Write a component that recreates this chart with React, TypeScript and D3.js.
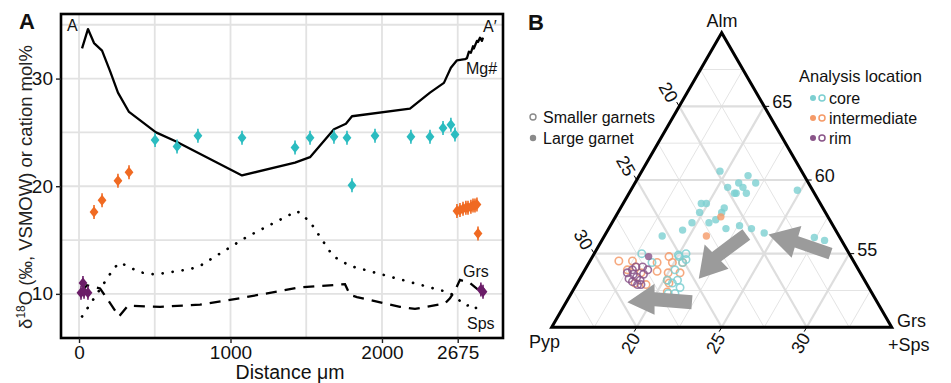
import { useRef, useEffect } from "react";
import * as d3 from "d3";

const FONT = "'Liberation Sans', Arial, Helvetica, sans-serif";

// ---- panel A : profile A-A' ----
const distTicks = [0, 1000, 2000, 2500];
const distTickLabels = ["0", "1000", "2000", "2675"];
const distGrid = [0, 500, 1000, 1500, 2000, 2500];
const valTicks = [10, 20, 30];
const valGrid = [10, 15, 20, 25, 30, 35];

// Mg# (solid)
const mgDist = [20, 59, 99, 152, 205, 257, 330, 508, 634, 1076, 1426, 1525, 1683, 1762, 1802, 2185, 2317, 2409, 2455, 2495, 2548, 2561, 2574, 2587, 2601, 2607, 2627, 2634, 2647, 2660, 2667];
const mgVal = [32.8, 34.6, 33.3, 32.6, 30.7, 28.7, 26.9, 25.0, 24.2, 21.0, 22.2, 22.7, 25.3, 25.8, 26.5, 27.2, 28.7, 29.6, 31.0, 31.7, 31.8, 31.9, 32.5, 32.4, 33.0, 32.8, 33.5, 33.4, 33.8, 33.5, 33.8];
// Grs (dashed)
const grsDist = [13, 53, 139, 178, 264, 323, 535, 799, 1063, 1459, 1756, 1789, 1835, 2119, 2218, 2416, 2449, 2482, 2515, 2581, 2634];
const grsVal = [10.2, 10.8, 10.5, 9.7, 7.9, 8.9, 8.8, 9.0, 9.6, 10.6, 10.9, 9.9, 9.7, 8.8, 8.6, 9.1, 9.6, 10.3, 11.3, 11.0, 10.4];
// Sps (dotted)
const spsDist = [20, 231, 271, 403, 502, 733, 799, 1109, 1439, 1525, 1677, 1789, 2449, 2554, 2607, 2647];
const spsVal = [7.9, 12.4, 12.9, 12.0, 11.8, 12.3, 12.6, 15.3, 17.7, 16.7, 13.5, 12.6, 10.1, 8.9, 9.0, 8.1];

// d18O analyses
const coreDist = [502, 647, 785, 1076, 1426, 1525, 1683, 1769, 1802, 1954, 2191, 2317, 2403, 2455, 2482];
const coreO = [24.3, 23.7, 24.7, 24.5, 23.6, 24.5, 24.6, 24.5, 20.1, 24.7, 24.6, 24.6, 25.4, 25.7, 24.8];
const interDist = [99, 152, 257, 330, 2495, 2515, 2535, 2554, 2568, 2587, 2601, 2614, 2627, 2634];
const interO = [17.6, 18.7, 20.5, 21.3, 17.7, 17.8, 17.9, 18.0, 18.0, 18.1, 18.2, 18.2, 18.3, 15.6];
const rimDist = [26, 13, 59, 33, 2653, 2667];
const rimO = [11.0, 10.1, 10.1, 10.2, 10.4, 10.2];

// ---- panel B : ternary Alm / Pyp / Grs+Sps (mol%) ----
// [Alm, Pyp, Grs+Sps]
const largeCore = [
  [60.6, 19.8, 19.6], [60.3, 18.3, 21.4], [59.8, 19.1, 21.1], [59.8, 18.1, 22.1], [59.5, 19.9, 20.6],
  [59.5, 19.0, 21.5], [59.1, 19.6, 21.3], [59.1, 19.7, 21.2], [59.1, 19.0, 21.9], [59.3, 15.9, 24.8],
  [58.4, 22.0, 19.6], [58.4, 21.7, 19.9], [58.1, 20.8, 21.1], [57.8, 22.4, 19.8], [57.8, 21.1, 21.1],
  [57.3, 21.7, 21.0], [57.1, 22.2, 20.7], [57.1, 23.2, 19.7], [56.6, 24.0, 19.4], [56.7, 21.4, 21.9],
  [56.9, 20.5, 22.6], [56.7, 19.9, 23.4], [56.4, 19.3, 24.3], [56.1, 16.5, 27.4], [55.9, 16.0, 28.1],
  [56.2, 25.4, 18.4],
];
const largeInter = [[57.5, 21.3, 21.2], [56.2, 22.8, 21.0]];
const largeRim = [[54.8, 26.9, 18.3]];
const smallCore = [
  [55.0, 27.2, 17.8], [54.4, 26.9, 18.7], [54.9, 25.1, 20.0], [55.0, 24.6, 20.4], [54.6, 24.8, 20.6],
  [54.4, 25.1, 20.5], [53.9, 25.8, 20.3], [53.2, 26.0, 20.8], [53.2, 26.6, 20.2], [52.7, 26.1, 21.2],
  [52.3, 26.6, 21.1], [52.3, 27.0, 20.7], [54.8, 25.1, 20.1], [53.0, 26.4, 20.6],
];
const smallInter = [
  [54.5, 28.8, 16.7], [54.5, 28.0, 17.5], [53.9, 28.6, 17.5], [53.7, 27.9, 18.4], [53.0, 28.6, 18.4],
  [52.9, 28.0, 19.1], [54.4, 26.6, 19.0], [53.8, 26.9, 19.3], [54.8, 25.7, 19.5], [54.4, 25.7, 19.9],
  [53.7, 26.3, 20.0], [54.4, 25.1, 20.5], [53.7, 25.6, 20.7], [53.0, 26.6, 20.4], [52.4, 27.0, 20.6],
  [53.2, 26.6, 20.2], [54.1, 28.0, 17.9],
];
const smallRim = [
  [53.7, 28.7, 17.6], [53.9, 28.3, 17.8], [53.4, 28.3, 18.3], [53.1, 28.7, 18.2], [53.2, 28.2, 18.6],
  [53.6, 27.8, 18.6], [53.9, 27.4, 18.7], [54.1, 28.0, 17.9], [54.1, 27.6, 18.3], [52.9, 28.5, 18.6],
  [53.6, 28.4, 18.0], [53.3, 28.8, 17.9], [52.9, 28.3, 18.8],
];
// arrows: centreline in ternary coords, last point is the tip
const arrows = [
  { pts: [[55.0, 16.1, 28.9], [55.8, 17.7, 26.5], [56.3, 19.1, 24.6]], shaft: 12, head: 33 },
  { pts: [[56.3, 20.4, 23.3], [55.7, 21.4, 22.9], [54.8, 22.9, 22.3], [53.3, 24.7, 22.0]], shaft: 13, head: 34 },
  { pts: [[51.7, 25.9, 22.4], [51.9, 28.0, 20.1], [51.7, 29.7, 18.6]], shaft: 14, head: 31 },
];
const almTicks = [55, 60, 65];
const sideTicks = [20, 25, 30];
const almMinor = [52.5, 57.5, 62.5, 67.5];
const sideMinor = [17.5, 22.5, 27.5, 32.5];

const colors = { core: "#2bbcc0", inter: "#f06a22", rim: "#6b1d68" };
const softColors = { core: "#7ccfd1", inter: "#f59a68", rim: "#8a5589" };

function drawProfile(g: any) {
  const x = d3.scaleLinear().domain([-119, 2799]).range([61, 503]);
  const y = d3.scaleLinear().domain([5.9, 36]).range([338, 14]);

  g.append("g").selectAll("line").data(distGrid).join("line")
    .attr("x1", (d: number) => x(d)).attr("x2", (d: number) => x(d))
    .attr("y1", y(5.9)).attr("y2", y(36))
    .attr("stroke", "#e2e2e2").attr("stroke-width", 1.8);
  g.append("g").selectAll("line").data(valGrid).join("line")
    .attr("x1", x(-119)).attr("x2", x(2799))
    .attr("y1", (d: number) => y(d)).attr("y2", (d: number) => y(d))
    .attr("stroke", "#e2e2e2").attr("stroke-width", 1.8);

  const line = d3.line<number>();
  const mk = (xs: number[], ys: number[]) =>
    line.x((_d, i) => x(xs[i])).y((_d, i) => y(ys[i]))(xs);

  g.append("path").attr("d", mk(spsDist, spsVal)).attr("fill", "none")
    .attr("stroke", "#000").attr("stroke-width", 2.7)
    .attr("stroke-dasharray", "0.1 10").attr("stroke-linecap", "round");
  g.append("path").attr("d", mk(grsDist, grsVal)).attr("fill", "none")
    .attr("stroke", "#000").attr("stroke-width", 2.3).attr("stroke-dasharray", "11 8");
  g.append("path").attr("d", mk(mgDist, mgVal)).attr("fill", "none")
    .attr("stroke", "#000").attr("stroke-width", 2.3).attr("stroke-linejoin", "round");

  const diamonds = (xs: number[], ys: number[], col: string) => {
    const gg = g.append("g");
    xs.forEach((d, i) => {
      const cx = x(d), cy = y(ys[i]);
      gg.append("line").attr("x1", cx).attr("x2", cx).attr("y1", cy - 7).attr("y2", cy + 7)
        .attr("stroke", col).attr("stroke-width", 1.6);
      gg.append("path")
        .attr("d", `M${cx},${cy - 5.5}L${cx + 4.4},${cy}L${cx},${cy + 5.5}L${cx - 4.4},${cy}Z`)
        .attr("fill", col);
    });
  };
  diamonds(coreDist, coreO, colors.core);
  diamonds(interDist, interO, colors.inter);
  diamonds(rimDist, rimO, colors.rim);

  // border
  g.append("rect").attr("x", 61).attr("y", 14).attr("width", 442).attr("height", 324)
    .attr("fill", "none").attr("stroke", "#000").attr("stroke-width", 2.6);

  const ax = g.append("g").attr("transform", "translate(61,0)")
    .call(d3.axisLeft(y).tickValues(valTicks).tickSize(5).tickPadding(3));
  const bx = g.append("g").attr("transform", "translate(0,338)")
    .call(d3.axisBottom(x).tickValues(distTicks).tickSize(5).tickPadding(3)
      .tickFormat((_d: any, i: number) => distTickLabels[i]));
  [ax, bx].forEach((a: any) => {
    a.select(".domain").remove();
    a.attr("font-family", FONT).attr("font-size", 19);
    a.selectAll("line").attr("stroke", "#222").attr("stroke-width", 1.4);
    a.selectAll("text").attr("fill", "#111");
  });

  g.append("text").attr("x", 290).attr("y", 379).attr("text-anchor", "middle")
    .attr("font-size", 19.5).text("Distance \u03bcm");
  const yt = g.append("text").attr("transform", "translate(32,187) rotate(-90)")
    .attr("text-anchor", "middle").attr("font-size", 18.5).attr("fill", "#222");
  yt.append("tspan").text("\u03b4");
  yt.append("tspan").attr("font-size", 12).attr("dy", -7).text("18");
  yt.append("tspan").attr("dy", 7).text("O (\u2030, VSMOW) or cation mol%");

  g.append("text").attr("x", 19).attr("y", 29).attr("font-size", 22).attr("font-weight", "bold").text("A");
  g.append("text").attr("x", 67).attr("y", 31).attr("font-size", 16).text("A");
  g.append("text").attr("x", 483).attr("y", 32).attr("font-size", 16).text("A\u2032");
  g.append("text").attr("x", 466).attr("y", 74).attr("font-size", 16).text("Mg#");
  g.append("text").attr("x", 463).attr("y", 277).attr("font-size", 16).text("Grs");
  g.append("text").attr("x", 467).attr("y", 329).attr("font-size", 16).text("Sps");
}

function drawTernary(g: any) {
  const T = [721.7, 32.7], L = [551.7, 327.3], R = [891.7, 327.3];
  const wAlm = d3.scaleLinear().domain([50, 70]).range([0, 1]);
  const wSide = d3.scaleLinear().domain([15, 35]).range([0, 1]);
  const proj = (a: number, p: number, s: number): [number, number] => {
    const wa = wAlm(a), wp = wSide(p), ws = wSide(s);
    const t = wa + wp + ws;
    return [(T[0] * wa + L[0] * wp + R[0] * ws) / t, (T[1] * wa + L[1] * wp + R[1] * ws) / t];
  };

  const gridLine = (v: number, kind: string) => {
    if (kind === "alm") return [proj(v, 85 - v, 15), proj(v, 15, 85 - v)];
    if (kind === "pyp") return [proj(85 - v, v, 15), proj(50, v, 50 - v)];
    return [proj(85 - v, 15, v), proj(50, 50 - v, v)];
  };
  const grid = g.append("g");
  const addGrid = (vals: number[], kind: string, w: number, col: string) => {
    vals.forEach((v) => {
      const [a, b] = gridLine(v, kind);
      grid.append("line").attr("x1", a[0]).attr("y1", a[1]).attr("x2", b[0]).attr("y2", b[1])
        .attr("stroke", col).attr("stroke-width", w);
    });
  };
  ["alm", "pyp", "gs"].forEach((k) => {
    addGrid(k === "alm" ? almMinor : sideMinor, k, 1, "#e4e4e4");
  });
  ["alm", "pyp", "gs"].forEach((k) => {
    addGrid(k === "alm" ? almTicks : sideTicks, k, 2.2, "#dedede");
  });

  const pts = g.append("g");
  const openPts = (data: number[][], col: string) => {
    pts.append("g").selectAll("circle").data(data).join("circle")
      .attr("cx", (d: number[]) => proj(d[0], d[1], d[2])[0])
      .attr("cy", (d: number[]) => proj(d[0], d[1], d[2])[1])
      .attr("r", 3.7).attr("fill", "none").attr("stroke", col)
      .attr("stroke-width", 1.6).attr("stroke-opacity", 0.85);
  };
  const filledPts = (data: number[][], col: string) => {
    pts.append("g").selectAll("circle").data(data).join("circle")
      .attr("cx", (d: number[]) => proj(d[0], d[1], d[2])[0])
      .attr("cy", (d: number[]) => proj(d[0], d[1], d[2])[1])
      .attr("r", 3.7).attr("fill", col).attr("fill-opacity", 0.8);
  };
  openPts(smallInter, softColors.inter);
  openPts(smallCore, softColors.core);
  openPts(smallRim, softColors.rim);
  filledPts(largeCore, softColors.core);
  filledPts(largeInter, softColors.inter);
  filledPts(largeRim, softColors.rim);

  // trend arrows
  arrows.forEach((ar) => {
    const p = ar.pts.map((d) => proj(d[0], d[1], d[2]));
    const tip = p[p.length - 1];
    const shaft = p.slice(0, -1);
    const norm = (i: number) => {
      const a = shaft[Math.max(0, i - 1)], b = i < shaft.length - 1 ? shaft[i + 1] : tip;
      const dx = b[0] - a[0], dy = b[1] - a[1], l = Math.hypot(dx, dy);
      return [-dy / l, dx / l];
    };
    const left = shaft.map((q, i) => { const n = norm(i); return [q[0] + n[0] * ar.shaft / 2, q[1] + n[1] * ar.shaft / 2]; });
    const right = shaft.map((q, i) => { const n = norm(i); return [q[0] - n[0] * ar.shaft / 2, q[1] - n[1] * ar.shaft / 2]; });
    const neck = shaft[shaft.length - 1];
    const nn = norm(shaft.length - 1);
    const wingL = [neck[0] + nn[0] * ar.head / 2, neck[1] + nn[1] * ar.head / 2];
    const wingR = [neck[0] - nn[0] * ar.head / 2, neck[1] - nn[1] * ar.head / 2];
    const poly = [...left, wingL, tip, wingR, ...right.reverse()];
    g.append("path").attr("d", "M" + poly.map((q) => q.join(",")).join("L") + "Z")
      .attr("fill", "#9b9b9b");
  });

  // triangle
  g.append("path").attr("d", `M${T.join(",")}L${L.join(",")}L${R.join(",")}Z`)
    .attr("fill", "none").attr("stroke", "#000").attr("stroke-width", 3).attr("stroke-linejoin", "miter");

  const tk = g.append("g").attr("font-size", 18);
  almTicks.forEach((v) => {
    const q = proj(v, 15, 85 - v);
    tk.append("line").attr("x1", q[0]).attr("y1", q[1]).attr("x2", q[0] + 5).attr("y2", q[1]).attr("stroke", "#000");
    tk.append("text").attr("x", q[0] + 8).attr("y", q[1] - 4).attr("dominant-baseline", "central").text(v);
  });
  sideTicks.forEach((v) => {
    const q = proj(85 - v, v, 15);
    tk.append("line").attr("x1", q[0]).attr("y1", q[1]).attr("x2", q[0] - 2.5).attr("y2", q[1] - 4.3).attr("stroke", "#000");
    tk.append("text").attr("transform", `translate(${q[0] - 11},${q[1] - 14}) rotate(60)`)
      .attr("text-anchor", "middle").attr("dominant-baseline", "central").text(v);
    const r = proj(50, 50 - v, v);
    tk.append("line").attr("x1", r[0]).attr("y1", r[1]).attr("x2", r[0] - 2.5).attr("y2", r[1] + 4.3).attr("stroke", "#000");
    tk.append("text").attr("transform", `translate(${r[0] - 6},${r[1] + 16}) rotate(-60)`)
      .attr("text-anchor", "middle").attr("dominant-baseline", "central").text(v);
  });

  g.append("text").attr("x", 722).attr("y", 27).attr("text-anchor", "middle").attr("font-size", 18).text("Alm");
  g.append("text").attr("x", 560).attr("y", 348).attr("text-anchor", "end").attr("font-size", 18).text("Pyp");
  g.append("text").attr("x", 897).attr("y", 327).attr("font-size", 18).text("Grs");
  g.append("text").attr("x", 888).attr("y", 351).attr("font-size", 18).text("+Sps");
  g.append("text").attr("x", 528).attr("y", 30).attr("font-size", 22).attr("font-weight", "bold").text("B");

  // legends
  const lg = g.append("g").attr("font-size", 16);
  lg.append("circle").attr("cx", 533).attr("cy", 117).attr("r", 3).attr("fill", "none").attr("stroke", "#8a8a8a").attr("stroke-width", 1.4);
  lg.append("text").attr("x", 543).attr("y", 117).attr("dominant-baseline", "central").text("Smaller garnets");
  lg.append("circle").attr("cx", 533).attr("cy", 138).attr("r", 3.2).attr("fill", "#8a8a8a");
  lg.append("text").attr("x", 543).attr("y", 138).attr("dominant-baseline", "central").text("Large garnet");

  lg.append("text").attr("x", 799).attr("y", 76).attr("dominant-baseline", "central").attr("font-size", 16.5).text("Analysis location");
  const items = [["core", softColors.core], ["intermediate", softColors.inter], ["rim", softColors.rim]];
  items.forEach(([name, col], i) => {
    const cy = 98 + i * 20;
    lg.append("circle").attr("cx", 813).attr("cy", cy).attr("r", 3).attr("fill", col);
    lg.append("circle").attr("cx", 822).attr("cy", cy).attr("r", 3).attr("fill", "none").attr("stroke", col).attr("stroke-width", 1.5);
    lg.append("text").attr("x", 829).attr("y", cy).attr("dominant-baseline", "central").text(name);
  });
}

export default function App() {
  const svgRef = useRef<SVGSVGElement>(null);

  useEffect(() => {
    const svg = d3.select(svgRef.current);
    svg.selectAll("*").remove();
    const root = svg.append("g").attr("font-family", FONT).attr("fill", "#111");
    drawProfile(root.append("g"));
    drawTernary(root.append("g"));
  }, []);

  return (
    <svg
      ref={svgRef}
      width={951}
      height={383}
      style={{ position: "absolute", left: 0, top: 0, background: "#fff" }}
    />
  );
}
